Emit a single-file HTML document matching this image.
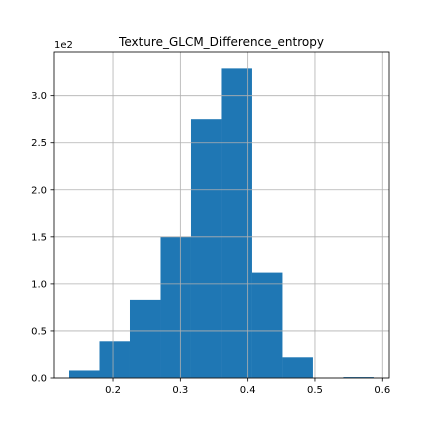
<!DOCTYPE html>
<html><head><meta charset="utf-8"><style>
body{margin:0;background:#fff;font-family:"DejaVu Sans","Liberation Sans",sans-serif}
svg text{font-family:"DejaVu Sans","Liberation Sans",sans-serif}
</style></head><body>
<svg id="c" width="432" height="432" viewBox="0 0 432 432"></svg>
<script>
const binStart = 0.1346;
const binWidth = 0.0453;
const counts = [8, 39, 83, 150, 275, 329, 112, 22, 0, 1];
const xTicks = [0.2, 0.3, 0.4, 0.5, 0.6];
const yTicks = [0, 50, 100, 150, 200, 250, 300];
const xMin = 0.1123, xMax = 0.610, yMax = 346.4;
const L = 54, R = 389, T = 52, B = 378;
const X = v => L + (v - xMin) / (xMax - xMin) * (R - L);
const Y = v => B - v / yMax * (B - T);
const svg = document.getElementById('c');
const NS = 'http://www.w3.org/2000/svg';
function mk(tag, attrs, parent) { const e = document.createElementNS(NS, tag); for (const k in attrs) e.setAttribute(k, attrs[k]); (parent || svg).appendChild(e); return e; }
const bars = mk('g', {});


counts.forEach((c, i) => {
  if (c <= 0) return;
  const x0 = X(binStart + i * binWidth), x1 = X(binStart + (i + 1) * binWidth);
  const r = mk('rect', {x: x0, y: Y(c), width: x1 - x0, height: B - Y(c), fill: '#1f77b4'}, bars);
  
  
});
const grid = mk('g', {stroke: '#b0b0b0', 'stroke-width': 0.8});


xTicks.forEach(t => { mk('line', {x1: X(t), x2: X(t), y1: T, y2: B}, grid); });
yTicks.forEach(t => { mk('line', {x1: L, x2: R, y1: Y(t), y2: Y(t)}, grid); });
const ax = mk('g', {});


mk('rect', {x: L, y: T, width: R - L, height: B - T, fill: 'none', stroke: '#000', 'stroke-width': 0.8}, ax);
xTicks.forEach(t => {
  mk('line', {x1: X(t), x2: X(t), y1: B, y2: B + 3.5, stroke: '#000', 'stroke-width': 0.8}, ax);
  const tx = mk('text', {x: X(t), y: B + 15, 'font-size': 10, 'text-anchor': 'middle'}, ax);
  tx.textContent = t.toFixed(1);
  
  
});
yTicks.forEach(t => {
  mk('line', {x1: L - 3.5, x2: L, y1: Y(t), y2: Y(t), stroke: '#000', 'stroke-width': 0.8}, ax);
  const tx = mk('text', {x: L - 7, y: Y(t) + 3.5, 'font-size': 10, 'text-anchor': 'end'}, ax);
  tx.textContent = (t / 100).toFixed(1);
  
  
});
const off = mk('text', {x: L, y: T - 4, 'font-size': 10}, ax);
off.textContent = '1e2';


const title = mk('text', {x: (L + R) / 2, y: T - 6, 'font-size': 12, 'text-anchor': 'middle'});
title.textContent = 'Texture_GLCM_Difference_entropy';


</script>
</body></html>
